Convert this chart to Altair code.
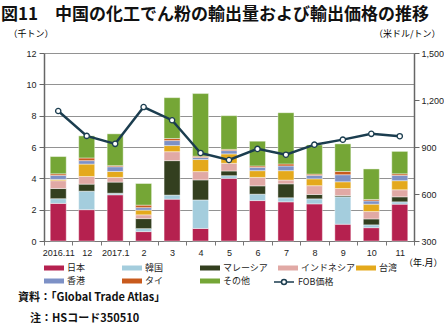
import altair as alt
import pandas as pd

months = ["2016.11", "12", "2017.1", "2", "3", "4", "5", "6", "7", "8", "9", "10", "11"]
countries = ["日本", "韓国", "マレーシア", "インドネシア", "台湾", "香港", "タイ", "その他"]
colors = ["#b5214f", "#a4cddd", "#333f1f", "#e1a9a5", "#e4a91c", "#7d91c6", "#c85a1d", "#75a636"]

japan = [2.4, 2.0, 2.95, 0.6, 2.67, 0.8, 4.0, 2.58, 2.5, 2.37, 1.07, 0.85, 2.35]
korea = [0.3, 1.18, 0.1, 0.19, 0.26, 1.82, 0.17, 0.41, 0.26, 0.32, 1.75, 0.18, 0.15]
malaysia = [0.65, 0.45, 0.71, 0.64, 2.2, 1.28, 0.3, 0.53, 0.89, 0.28, 0.08, 0.38, 0.32]
indonesia = [0.5, 0.49, 0.3, 0.24, 0.57, 0.53, 0.49, 0.54, 0.24, 0.56, 0.45, 0.47, 0.45]
taiwan = [0.08, 0.79, 0.38, 0.3, 0.39, 0.77, 0.6, 0.43, 0.6, 0.44, 0.43, 0.47, 0.58]
hongkong = [0.26, 0.22, 0.3, 0.16, 0.32, 0.13, 0.21, 0.21, 0.3, 0.22, 0.45, 0.21, 0.34]
thai = [0.1, 0.17, 0.07, 0.16, 0.13, 0.08, 0.08, 0.09, 0.13, 0.08, 0.21, 0.09, 0.1]
other = [1.1, 1.41, 2.03, 1.38, 2.61, 4.0, 2.15, 1.58, 3.27, 1.86, 1.76, 1.95, 1.43]
fob = [1130, 971, 920, 1155, 1071, 862, 817, 888, 851, 915, 947, 984, 969]

title_text = "図11　中国の化工でん粉の輸出量および輸出価格の推移"
source_text = "資料：「Global Trade Atlas」"
note_text = "注：HSコード350510"

series = [japan, korea, malaysia, indonesia, taiwan, hongkong, thai, other]
rows = []
for ci, (c, vals) in enumerate(zip(countries, series)):
    for m, v in zip(months, vals):
        rows.append({"month": m, "country": c, "value": v, "idx": ci})
bar_df = pd.DataFrame(rows)
line_df = pd.DataFrame({"month": months, "fob": fob, "series": ["FOB価格"] * len(months)})

JP = "Noto Sans CJK JP"
NUM = "Liberation Sans"

x_enc = alt.X(
    "month:N", sort=months,
    scale=alt.Scale(paddingInner=0, paddingOuter=0),
    axis=alt.Axis(
        title="（年.月）", titleFont=JP, titleFontSize=9, titleFontWeight="normal",
        titleAlign="right", titleBaseline="middle", titleX=398, titleY=21,
        labelAngle=0, labelFont=NUM, labelFontSize=9, labelColor="#222",
        labelPadding=3, tickBand="extent", tickSize=4, tickColor="#777",
        domainColor="#777", domainWidth=1.2, grid=False,
    ),
)

bars = alt.Chart(bar_df).mark_bar(width=16, stroke="white", strokeWidth=0.6, strokeOpacity=0.7).encode(
    x=x_enc,
    y=alt.Y(
        "value:Q", stack="zero",
        scale=alt.Scale(domain=[0, 12], nice=False),
        axis=alt.Axis(
            values=[0, 2, 4, 6, 8, 10, 12], grid=True, gridColor="#929292", gridWidth=1,
            domainColor="#666", domainWidth=1.5, tickColor="#666", tickSize=5,
            labelFont=NUM, labelFontSize=9, labelColor="#222", labelPadding=3,
            title="（千トン）", titleFont=JP, titleFontSize=9, titleFontWeight="normal",
            titleAngle=0, titleAlign="left", titleBaseline="middle", titleX=-36, titleY=-20,
        ),
    ),
    color=alt.Color(
        "country:N", sort=countries,
        scale=alt.Scale(domain=countries, range=colors),
        legend=alt.Legend(
            title=None, orient="none", legendX=5, legendY=210, direction="horizontal",
            columns=5, symbolType="M-2,-0.5H2V0.5H-2Z", symbolSize=100, symbolStrokeWidth=0,
            labelOffset=8, labelFont=JP, labelFontSize=9, labelColor="#222",
            columnPadding=0, rowPadding=3, gridAlign="all", padding=0,
        ),
    ),
    order=alt.Order("idx:Q", sort="ascending"),
)

line = alt.Chart(line_df).mark_line(
    strokeWidth=2.5,
    point=alt.OverlayMarkDef(filled=False, fill="white", size=28, strokeWidth=1.3),
).encode(
    x=alt.X("month:N", sort=months),
    y=alt.Y(
        "fob:Q",
        scale=alt.Scale(domain=[300, 1500], nice=False),
        axis=alt.Axis(
            orient="right", values=[300, 600, 900, 1200, 1500], format=",.0f", grid=False,
            domainColor="#666", domainWidth=1.5, tickColor="#666", tickSize=5,
            labelFont=NUM, labelFontSize=9, labelColor="#222", labelPadding=2,
            title="（米ドル/トン）", titleFont=JP, titleFontSize=9, titleFontWeight="normal",
            titleAngle=0, titleAlign="right", titleBaseline="middle", titleX=26, titleY=-20,
        ),
    ),
    stroke=alt.Stroke(
        "series:N",
        scale=alt.Scale(domain=["FOB価格"], range=["#1b3d4f"]),
        legend=alt.Legend(
            title=None, orient="none", legendX=234, legendY=223,
            symbolType="M-2,0H-0.5M0.5,0H2M0.5,0A0.5,0.5 0 1,1 -0.5,0A0.5,0.5 0 1,1 0.5,0",
            symbolSize=100, symbolStrokeWidth=1.5, symbolFillColor="white",
            labelOffset=8, labelFont=JP, labelFontSize=9, labelColor="#222", padding=0,
        ),
    ),
)

title = alt.Chart(pd.DataFrame({"t": [title_text]})).mark_text(
    align="left", baseline="middle", font=JP, fontSize=17, fontWeight="bold", color="#111"
).encode(x=alt.value(-43), y=alt.value(-38), text="t:N")

source = alt.Chart(pd.DataFrame({"t": [source_text]})).mark_text(
    align="left", baseline="middle", font=JP, fontSize=11, fontWeight="bold", color="#111"
).encode(x=alt.value(-26), y=alt.value(245), text="t:N")

note = alt.Chart(pd.DataFrame({"t": [note_text]})).mark_text(
    align="left", baseline="middle", font=JP, fontSize=11, fontWeight="bold", color="#111"
).encode(x=alt.value(-14), y=alt.value(266), text="t:N")

chart = alt.layer(bars, line, title, source, note).resolve_scale(
    y="independent"
).properties(
    width=370, height=188,
    autosize=alt.AutoSizeParams(type="none"),
    padding={"left": 44, "top": 53, "right": 30, "bottom": 85},
).configure_view(stroke=None)

chart.save("out.html", embed_options={"renderer": "svg", "actions": False})
